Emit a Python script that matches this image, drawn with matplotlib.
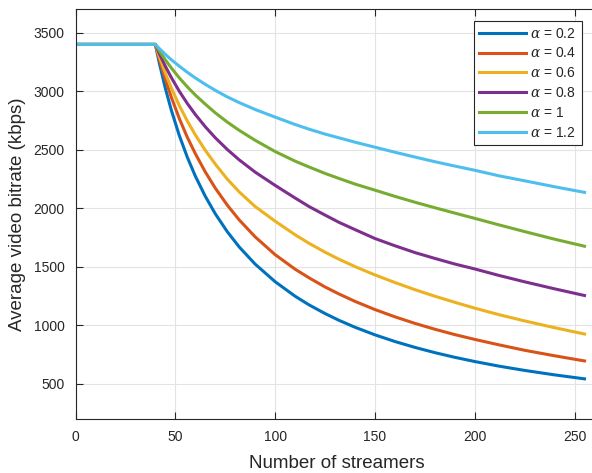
import matplotlib
matplotlib.use("Agg")
from matplotlib import pyplot as plt

plt.rcParams['font.family'] = ['Liberation Sans', 'DejaVu Sans']
plt.rcParams['mathtext.fontset'] = 'dejavuserif'

# Number of streamers (sample points)
streamers = [0, 40, 42, 45, 48, 52, 56, 60, 65, 70, 76, 82, 90, 100,
             110, 117, 125, 132, 140, 150, 160, 170, 180, 190, 200, 212, 225, 240, 255]

# Average video bitrate (kbps) for each alpha
rate_a02 = [3400, 3400, 3240, 3026, 2838, 2622, 2437, 2276, 2103, 1954, 1801, 1670, 1523, 1373,
            1249, 1175, 1101, 1043, 984, 919, 862, 812, 767, 727, 691, 652, 615, 577, 543]
rate_a04 = [3400, 3400, 3273, 3102, 2949, 2767, 2607, 2468, 2311, 2173, 2028, 1901, 1756, 1604,
            1480, 1406, 1328, 1268, 1205, 1135, 1073, 1017, 967, 921, 880, 834, 787, 740, 696]
rate_a06 = [3400, 3400, 3296, 3155, 3028, 2878, 2746, 2628, 2496, 2378, 2250, 2140, 2015, 1890,
            1774, 1701, 1625, 1565, 1502, 1431, 1366, 1305, 1249, 1197, 1147, 1092, 1038, 980, 926]
rate_a08 = [3400, 3400, 3322, 3214, 3117, 3000, 2896, 2802, 2697, 2603, 2503, 2414, 2309, 2196,
            2088, 2015, 1942, 1880, 1818, 1742, 1680, 1622, 1572, 1524, 1482, 1427, 1372, 1312, 1255]
rate_a10 = [3400, 3400, 3345, 3268, 3199, 3114, 3038, 2968, 2890, 2816, 2737, 2666, 2581, 2485,
            2403, 2353, 2298, 2255, 2207, 2155, 2102, 2052, 2005, 1959, 1914, 1859, 1801, 1736, 1676]
rate_a12 = [3400, 3400, 3365, 3315, 3269, 3214, 3162, 3114, 3059, 3008, 2952, 2903, 2844, 2779,
            2716, 2676, 2634, 2602, 2565, 2522, 2479, 2438, 2398, 2361, 2325, 2278, 2235, 2184, 2136]

labels = [r'$\alpha$ = 0.2', r'$\alpha$ = 0.4', r'$\alpha$ = 0.6',
          r'$\alpha$ = 0.8', r'$\alpha$ = 1', r'$\alpha$ = 1.2']
series = [rate_a02, rate_a04, rate_a06, rate_a08, rate_a10, rate_a12]
colors = ['#0072BD', '#D95319', '#EDB120', '#7E2F8E', '#77AC30', '#4DBEEE']

xticks = [0, 50, 100, 150, 200, 250]
yticks = [500, 1000, 1500, 2000, 2500, 3000, 3500]

fig = plt.figure(figsize=(5.92, 4.73), dpi=100)
# right edge of the box falls just outside the image, as in the original
ax = fig.add_axes([75.5 / 592, 54 / 473, 523 / 592, 409.7 / 473])

for vals, lab, col in zip(series, labels, colors):
    ax.plot(streamers, vals, color=col, linewidth=2.2, label=lab)

ax.set_xlim(0, 262)
ax.set_ylim(200, 3700)
ax.set_xticks(xticks)
ax.set_yticks(yticks)

# MATLAB-like look
ax.grid(True, color='#e3e3e3', linewidth=0.8)
ax.set_axisbelow(True)
for s in ax.spines.values():
    s.set_color('#262626')
    s.set_linewidth(0.8)
ax.tick_params(direction='in', top=True, right=True, length=5,
               colors='#262626', labelsize=10, width=0.8, pad=8)

ax.set_xlabel('Number of streamers', fontsize=13.5, color='#262626', labelpad=8)
ax.set_ylabel('Average video bitrate (kbps)', fontsize=13.5, color='#262626', labelpad=5)

leg = ax.legend(loc='upper right', bbox_to_anchor=(581.7 / 592, 1 - 21.3 / 473),
                bbox_transform=fig.transFigure, borderaxespad=0, fontsize=10,
                handlelength=3.4, handletextpad=0.3, labelspacing=0.42,
                borderpad=0.38, fancybox=False, framealpha=1)
leg.get_frame().set_edgecolor('#262626')
leg.get_frame().set_linewidth(0.8)
for t in leg.get_texts():
    t.set_color('#262626')

fig.savefig('out.png', dpi=100)
